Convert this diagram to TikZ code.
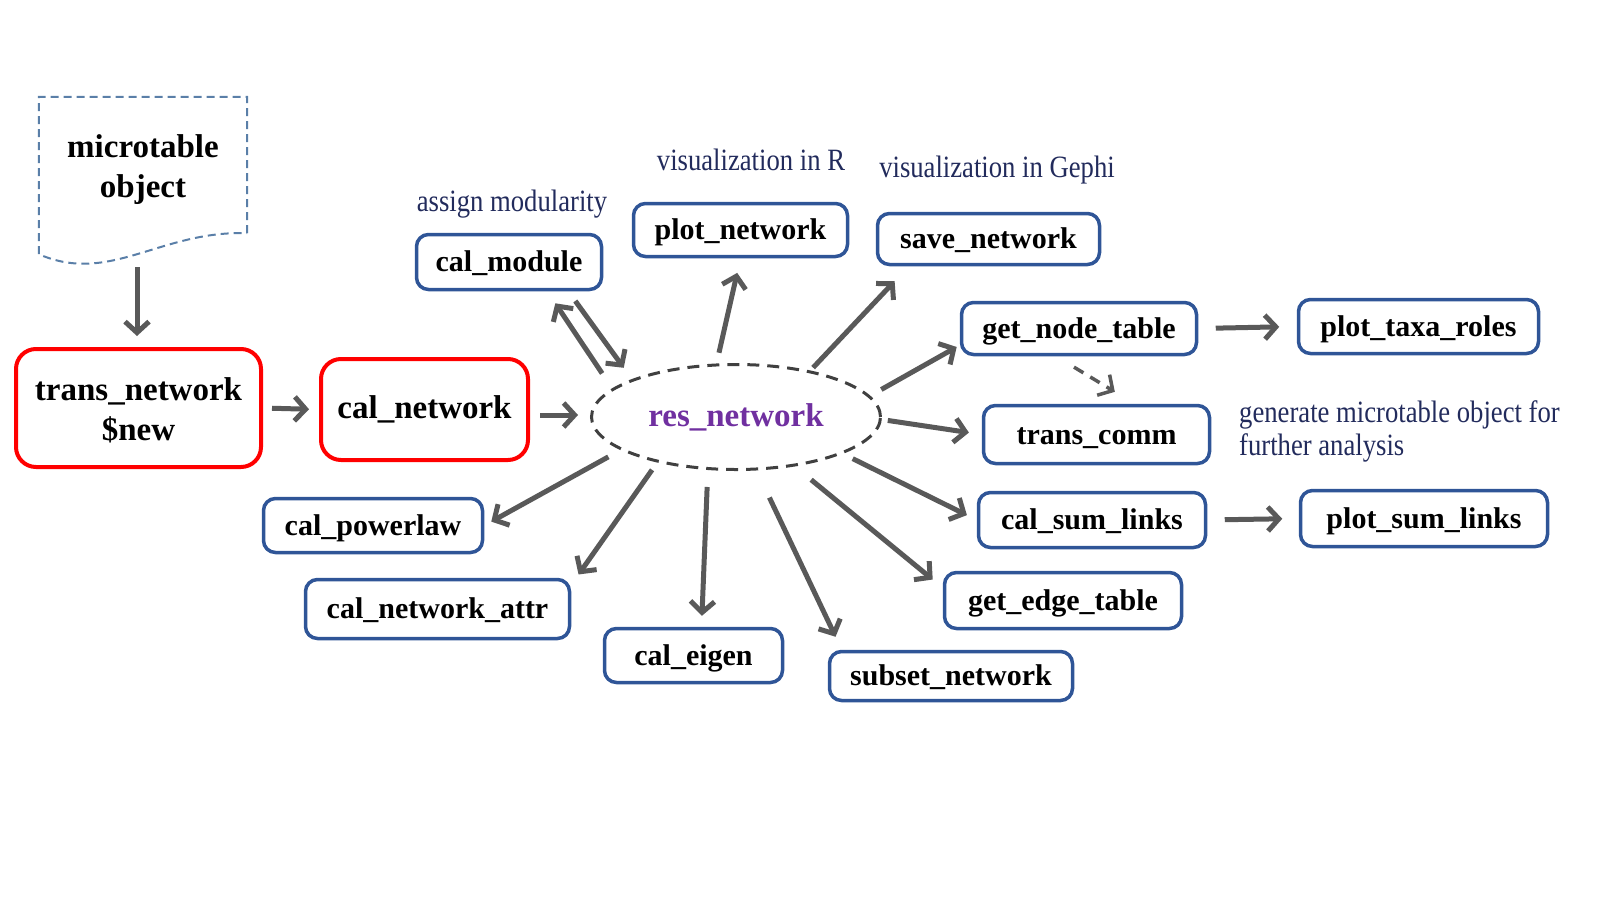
\documentclass[tikz,border=0pt]{standalone}
\usepackage{fontspec}
\setmainfont{Liberation Serif}
\newfontfamily\notefont[FakeStretch=0.86]{Liberation Serif}
\usepackage{tikz}
\usetikzlibrary{shapes.geometric,arrows.meta,calc}
\definecolor{boxblue}{HTML}{2F5597}
\definecolor{notetext}{HTML}{222B5C}
\definecolor{arrowgray}{HTML}{595959}
\definecolor{ringgray}{HTML}{404040}
\definecolor{docblue}{HTML}{5A7FA8}
\definecolor{respurple}{HTML}{7030A0}
\tikzstyle{block} = [rectangle, draw=boxblue, line width=3.5pt, rounded corners=12pt,
inner sep=0pt, text height=25pt, text depth=6pt, font=\fontsize{30}{36}\selectfont\bfseries]
\tikzstyle{redblock} = [rectangle, draw=red, line width=4pt, rounded corners=20pt,
inner sep=0pt, align=center, font=\fontsize{33}{40}\selectfont\bfseries]
\tikzstyle{ring} = [ellipse, draw=ringgray, line width=3pt, dash pattern=on 12pt off 8pt,
inner sep=0pt, text=respurple, font=\fontsize{33}{40}\selectfont\bfseries]
\tikzstyle{note} = [inner sep=0pt, text=notetext, align=left, font=\notefont\fontsize{31}{33}\selectfont]
\tikzstyle{docline} = [draw=docblue, line width=2pt, dash pattern=on 8pt off 5pt]
\tikzstyle{line} = [draw=arrowgray, line width=5pt, -{Straight Barb[length=11pt,width=24pt]}]
\tikzstyle{dashline} = [line, line width=3.5pt, dash pattern=on 11pt off 8pt]

\begin{document}
\begin{tikzpicture}[x=1pt, y=-1pt]
    \useasboundingbox (0,0) rectangle (1600,900);
    % Nodes
    \node [inner sep=0pt, minimum width=208pt, minimum height=136pt, align=center,
        font=\fontsize{33}{40}\selectfont\bfseries] (microtable) at (143,165) {\rule{0pt}{33pt}microtable\\object};
    \draw [docline] (microtable.south east) -- (microtable.north east) -- (microtable.north west)
        -- ([yshift=-21pt]microtable.south west) .. controls +(71,31) and +(-87,-3) .. (microtable.south east);
    \node [redblock, minimum width=245pt, minimum height=118pt] (trans_network) at (138.5,408) {\rule{0pt}{28pt}trans\_network\\\$new};
    \node [redblock, minimum width=207pt, minimum height=101pt] (cal_network) at (424.5,409.5) {cal\_network};
    \node [ring, minimum width=289pt, minimum height=105pt] (res) at (736,417) {res\_network};

    \node [block, minimum width=185pt, minimum height=55pt] (cal_module) at (509,262) {cal\_module};
    \node [block, minimum width=214pt, minimum height=53pt] (plot_network) at (740.5,230) {plot\_network};
    \node [block, minimum width=222pt, minimum height=51pt] (save_network) at (988.5,239) {save\_network};
    \node [block, minimum width=235pt, minimum height=52pt] (get_node_table) at (1079,328.5) {get\_node\_table};
    \node [block, minimum width=240pt, minimum height=54pt] (plot_taxa_roles) at (1418.5,326.5) {plot\_taxa\_roles};
    \node [block, minimum width=226pt, minimum height=58pt] (trans_comm) at (1096.5,434.5) {trans\_comm};
    \node [block, minimum width=227pt, minimum height=55pt] (cal_sum_links) at (1092,520) {cal\_sum\_links};
    \node [block, minimum width=247pt, minimum height=56pt] (plot_sum_links) at (1424,518.5) {plot\_sum\_links};
    \node [block, minimum width=237pt, minimum height=56pt] (get_edge_table) at (1063,600.5) {get\_edge\_table};
    \node [block, minimum width=243pt, minimum height=49pt] (subset_network) at (951,676) {subset\_network};
    \node [block, minimum width=178pt, minimum height=54pt] (cal_eigen) at (693.5,655.5) {cal\_eigen};
    \node [block, minimum width=264pt, minimum height=59pt] (cal_network_attr) at (437.5,609) {cal\_network\_attr};
    \node [block, minimum width=219pt, minimum height=54pt] (cal_powerlaw) at (373,525.5) {cal\_powerlaw};

    % notes
    \node [note] (note_module) at (512,204) {assign modularity};
    \node [note] (note_plot) at (751,160) {visualization in R};
    \node [note] (note_save) at (997,170) {visualization in Gephi};
    \node [note, anchor=west] (note_comm) at (1239,431) {generate microtable object for\\further analysis};

    % arrows
    \draw [line, shorten <=34pt, shorten >=11pt] ([xshift=-6pt]microtable.south) -- ([xshift=-1.5pt]trans_network.north);
    \draw [line, shorten <=9pt, shorten >=10pt] (trans_network.east) -- (cal_network.west);
    \draw [line, shorten <=10pt, shorten >=12pt] ([yshift=-5.5pt]cal_network.east) -- ([yshift=2pt]res.west);
    \draw [line, shorten <=18pt, shorten >=14.5pt] (res.167) -- ([xshift=-56pt]cal_module.south east);
    \draw [line, shorten <=12pt, shorten >=14pt] ([xshift=-35pt]cal_module.south east) -- (res.160);
    \draw [line, shorten <=11pt, shorten >=15pt] (res.110) -- (plot_network.south);
    \draw [line, shorten <=4pt, shorten >=20.6pt] (res.32) -- ([xshift=33pt]save_network.south west);
    \draw [line, shorten <=12.7pt, shorten >=3.5pt] (res.9) -- ([yshift=11pt]get_node_table.south west);
    \draw [line, shorten <=6pt, shorten >=13pt] (res.359) -- (trans_comm.west);
    \draw [line, shorten <=11pt, shorten >=11pt] (res.341) -- (cal_sum_links.west);
    \draw [line, shorten <=21pt, shorten >=13pt] (res.320) -- ([yshift=-17pt]get_edge_table.north west);
    \draw [line, shorten <=30pt, shorten >=14.4pt] (res.291) -- ([xshift=14pt]subset_network.north west);
    \draw [line, shorten <=17pt, shorten >=11pt] (res.242) -- ([xshift=8pt]cal_eigen.north);
    \draw [line, shorten <=9pt, shorten >=4pt] (res.210) -- ([xshift=5pt]cal_network_attr.north east);
    \draw [line, shorten <=14pt, shorten >=8pt] (res.196) -- (cal_powerlaw.east);
    \draw [line, shorten <=17.5pt, shorten >=17.5pt] (get_node_table.east) -- (plot_taxa_roles.west);
    \draw [line, shorten <=17.5pt, shorten >=16.5pt] (cal_sum_links.east) -- (plot_sum_links.west);
    \draw [dashline, shorten <=21pt, shorten >=23pt] ([xshift=-23pt]get_node_table.south) -- ([xshift=38pt]trans_comm.north);

\end{tikzpicture}
\end{document}
